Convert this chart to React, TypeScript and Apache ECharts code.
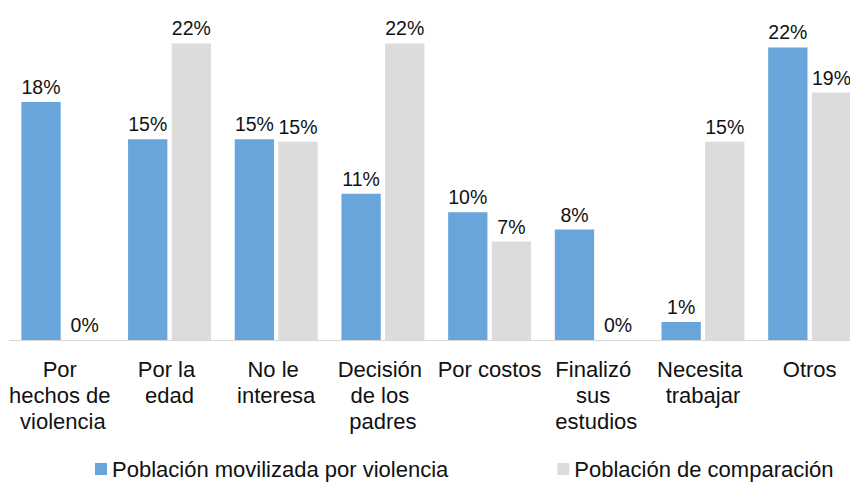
import React, { useEffect, useRef } from "react";
import * as echarts from "echarts";

const categories = [
  "Por hechos de violencia",
  "Por la edad",
  "No le interesa",
  "Decisión de los padres",
  "Por costos",
  "Finalizó sus estudios",
  "Necesita trabajar",
  "Otros",
];
const seriesNames = ["Población movilizada por violencia", "Población de comparación"];
const movilizada = [17.9, 15.1, 15.1, 11.0, 9.6, 8.3, 1.35, 22.0];
const comparacion = [0, 22.3, 14.9, 22.3, 7.4, 0, 14.9, 18.6];

const FONT = "'Liberation Sans', Arial, Helvetica, sans-serif";

export default function App() {
  const ref = useRef<HTMLDivElement>(null);
  useEffect(() => {
    if (!ref.current) return;
    const chart = echarts.init(ref.current, null, { renderer: "svg" });
    const label = {
      show: true,
      position: "top",
      distance: 5,
      color: "#111",
      fontSize: 19.5,
      fontFamily: FONT,
      formatter: (p: any) => Math.round(p.value) + "%",
    };
    chart.setOption({
      animation: false,
      textStyle: { fontFamily: FONT },
      grid: { left: 9.5, right: -13, top: 7.5, bottom: 142, outerBoundsMode: "none" },
      legend: {
        left: 95,
        top: 458,
        padding: 0,
        itemGap: 109,
        itemWidth: 12,
        itemHeight: 12,
        icon: "rect",
        textStyle: { fontSize: 22, color: "#111", fontFamily: FONT },
        data: seriesNames,
      },
      xAxis: {
        type: "category",
        data: categories,
        axisLine: { show: true, lineStyle: { color: "#d9d9d9", width: 1 } },
        axisTick: { show: false },
        axisLabel: {
          interval: 0,
          margin: 16,
          fontSize: 22,
          lineHeight: 26,
          color: "#111",
          fontFamily: FONT,
          width: 108,
          overflow: "break",
        },
      },
      yAxis: {
        type: "value",
        min: 0,
        max: 25,
        show: false,
        splitLine: { show: false },
      },
      series: [
        {
          name: seriesNames[0],
          type: "bar",
          data: movilizada,
          barWidth: 39.3,
          barGap: "11%",
          itemStyle: { color: "#67a5db" },
          label,
        },
        {
          name: seriesNames[1],
          type: "bar",
          data: comparacion,
          barWidth: 39.3,
          barGap: "11%",
          itemStyle: { color: "#dcdcdc" },
          label,
        },
      ],
    });
    return () => chart.dispose();
  }, []);
  return (
    <div
      ref={ref}
      style={{ position: "absolute", left: 0, top: 0, width: 850, height: 482 }}
    />
  );
}
